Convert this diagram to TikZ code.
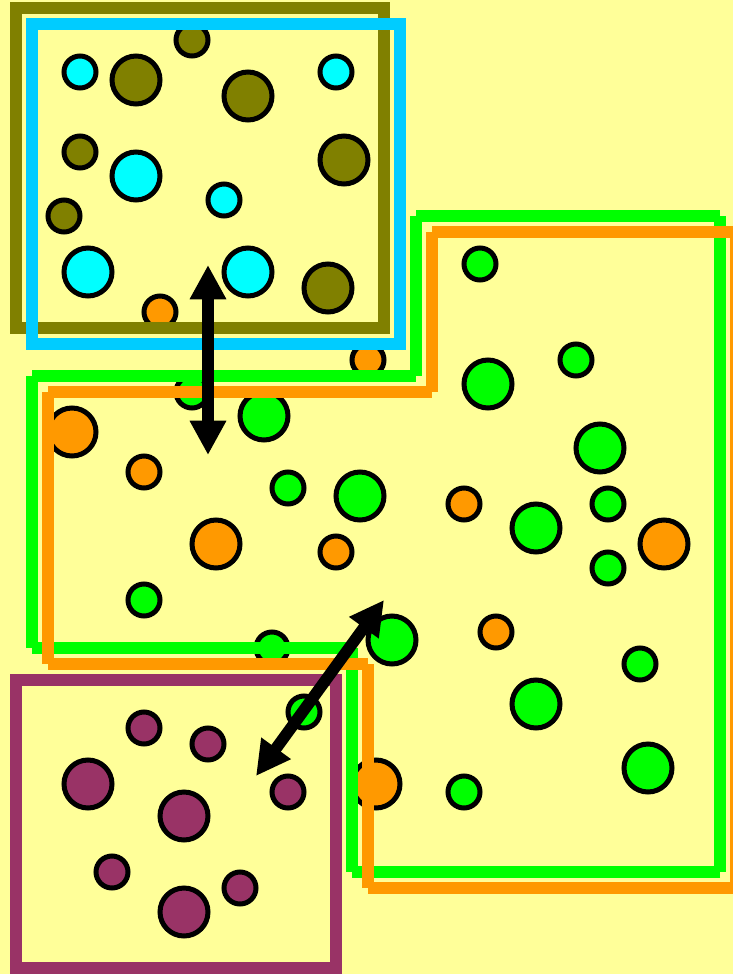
\documentclass[tikz,border=0pt]{standalone}
\usetikzlibrary{arrows.meta}
\definecolor{c1}{HTML}{000000}
\definecolor{paper}{HTML}{FFFF99}
\definecolor{olv}{HTML}{808000}
\definecolor{sky}{HTML}{00CCFF}
\definecolor{cyn}{HTML}{00FFFF}
\definecolor{grn}{HTML}{00FF00}
\definecolor{org}{HTML}{FF9900}
\definecolor{plum}{HTML}{993366}

\begin{document}
\begin{tikzpicture}[
    x=0.02cm, y=-0.02cm,
    dot/.style={circle, draw=c1, line width=2.85pt, inner sep=0pt, fill=#1},
    smalldot/.style={minimum size=0.64cm},
    bigdot/.style={minimum size=0.96cm},
    rim/.style={line width=6.6pt, draw=#1},
    arr/.style={{Triangle[length=19.5pt, width=19.5pt]}-{Triangle[length=19.5pt, width=19.5pt]},
        line width=6.6pt, color=c1},
]

% ================================================================ page
\useasboundingbox (0,0) rectangle (733,974);
\fill[paper] (0,0) rectangle (733,974);

% ================================================================ dots
\foreach \x/\y [count=\i] in {80/72, 336/72, 224/200}{
    \node[dot=cyn, smalldot] (cs\i) at (\x,\y) {};
}
\foreach \x/\y [count=\i] in {136/176, 88/272, 248/272}{
    \node[dot=cyn, bigdot] (cb\i) at (\x,\y) {};
}
\foreach \x/\y [count=\i] in {192/40, 80/152, 64/216}{
    \node[dot=olv, smalldot] (os\i) at (\x,\y) {};
}
\foreach \x/\y [count=\i] in {136/80, 248/96, 344/160, 328/288}{
    \node[dot=olv, bigdot] (ob\i) at (\x,\y) {};
}
\foreach \x/\y [count=\i] in {160/312, 368/360, 144/472, 336/552, 464/504, 496/632}{
    \node[dot=org, smalldot] (rs\i) at (\x,\y) {};
}
\foreach \x/\y [count=\i] in {72/432, 216/544, 664/544, 376/784}{
    \node[dot=org, bigdot] (rb\i) at (\x,\y) {};
}
\foreach \x/\y [count=\i] in {192/392, 288/488, 144/600, 272/648, 480/264, 576/360,
    608/504, 608/568, 640/664, 464/792, 304/712}{
    \node[dot=grn, smalldot] (gs\i) at (\x,\y) {};
}
\foreach \x/\y [count=\i] in {264/416, 360/496, 392/640, 488/384, 600/448, 536/528,
    536/704, 648/768}{
    \node[dot=grn, bigdot] (gb\i) at (\x,\y) {};
}
\foreach \x/\y [count=\i] in {144/728, 208/744, 288/792, 112/872, 240/888}{
    \node[dot=plum, smalldot] (ps\i) at (\x,\y) {};
}
\foreach \x/\y [count=\i] in {88/784, 184/816, 184/912}{
    \node[dot=plum, bigdot] (pb\i) at (\x,\y) {};
}

% ================================================================ regions
\draw[rim=olv] (16,8) rectangle (384,328);
\draw[rim=sky] (32,24) rectangle (400,344);
\draw[rim=grn] (416,216) -- (720,216) (720,216) -- (720,872) (720,872) -- (352,872)
    (352,872) -- (352,648) (352,648) -- (32,648) (32,648) -- (32,376)
    (32,376) -- (416,376) (416,376) -- (416,216);
\draw[rim=org] (432,232) -- (736,232) (736,232) -- (736,888) (736,888) -- (368,888)
    (368,888) -- (368,664) (368,664) -- (48,664) (48,664) -- (48,392)
    (48,392) -- (432,392) (432,392) -- (432,232);
\draw[rim=plum] (16,680) rectangle (336,968);

% ================================================================ arrows
\coordinate (up1) at (208,265);
\coordinate (dn1) at (208,455);
\coordinate (up2) at (384,600);
\coordinate (dn2) at (256,776);
\draw[arr] (up1) -- (dn1);
\draw[arr] (dn2) -- (up2);

\end{tikzpicture}
\end{document}
